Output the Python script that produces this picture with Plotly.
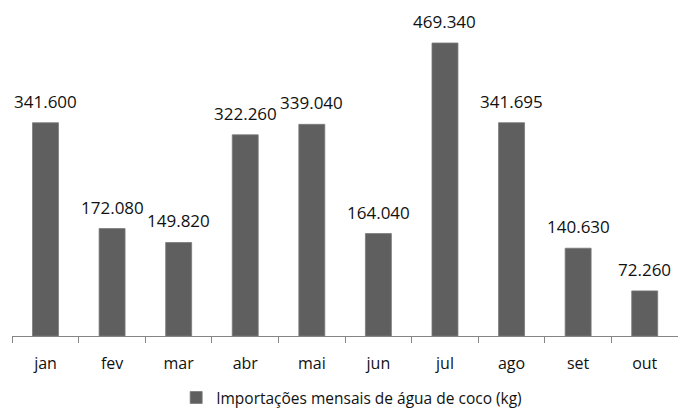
import plotly.graph_objects as go

# Monthly coconut water imports (kg)
months = ["jan", "fev", "mar", "abr", "mai", "jun", "jul", "ago", "set", "out"]
imports_kg = [341600, 172080, 149820, 322260, 339040, 164040, 469340, 341695, 140630, 72260]
series_name = "Importações mensais de água de coco (kg)"

FONT = "Open Sans"
BAR_COLOR = "#5f5f5f"
AXIS_COLOR = "#868686"
TEXT_COLOR = "#111111"


def fmt_pt(v):
    # Brazilian style thousands separator
    return f"{v:,}".replace(",", ".")


fig = go.Figure()
fig.add_trace(go.Bar(
    x=months,
    y=imports_kg,
    name=series_name,
    marker=dict(color=BAR_COLOR, line=dict(color="#7a7a7a", width=0.8)),
    showlegend=True,
))

for m, v in zip(months, imports_kg):
    fig.add_annotation(
        x=m, y=v, text=fmt_pt(v), showarrow=False,
        yanchor="bottom", yshift=8,
        font=dict(family=FONT, size=17, color=TEXT_COLOR),
    )

fig.update_layout(
    width=678, height=410,
    margin=dict(l=12, r=0, t=10, b=74, autoexpand=False),
    paper_bgcolor="white", plot_bgcolor="white",
    bargap=0.61,
    font=dict(family=FONT, size=16, color=TEXT_COLOR),
    xaxis=dict(
        type="category",
        showline=True, linecolor=AXIS_COLOR, linewidth=1,
        ticks="outside", tickson="boundaries", ticklen=6, tickcolor=AXIS_COLOR,
        ticklabelstandoff=13,
        showgrid=False, zeroline=False,
        tickfont=dict(family=FONT, size=16, color=TEXT_COLOR),
    ),
    yaxis=dict(
        range=[0, 522200], visible=False, showgrid=False, zeroline=False,
    ),
    legend=dict(
        orientation="h", x=0.51, xanchor="center", y=-0.19, yanchor="middle",
        font=dict(family=FONT, size=15.5, color=TEXT_COLOR),
        itemwidth=30,
    ),
)

fig.write_html("out.html")
